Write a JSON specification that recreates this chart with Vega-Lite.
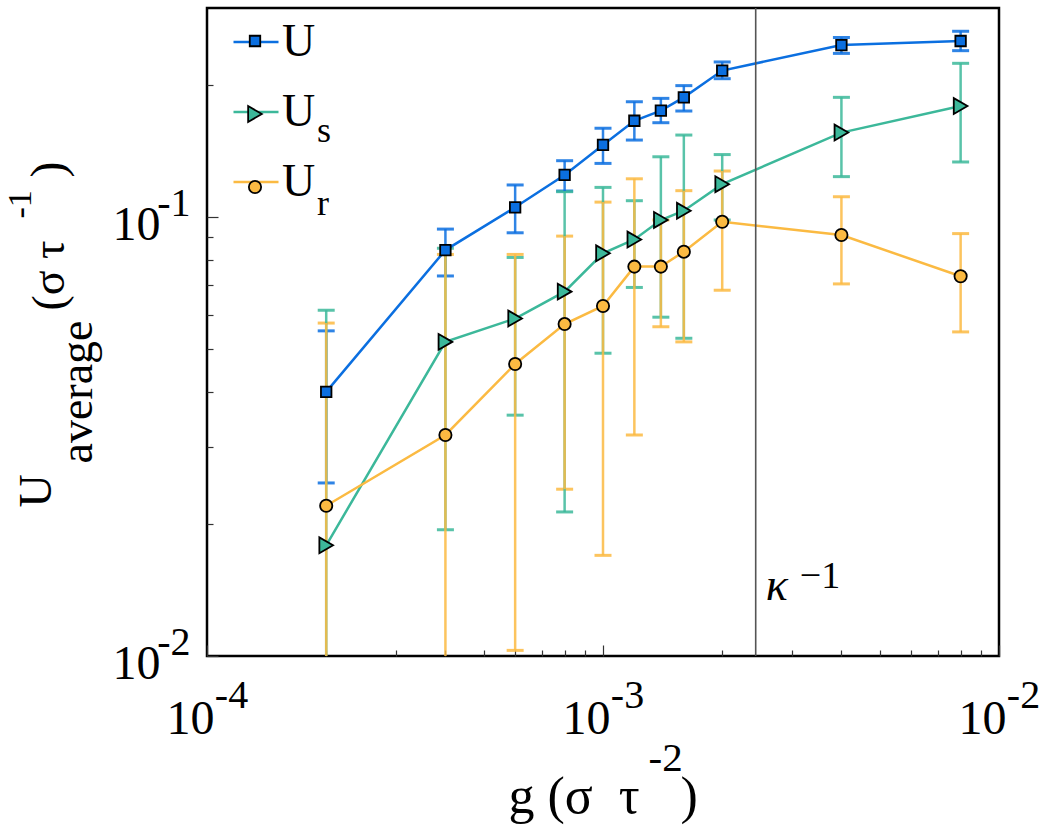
{
  "$schema": "https://vega.github.io/schema/vega-lite/v6.json",
  "width": 792,
  "height": 648,
  "autosize": {"type": "none"},
  "padding": {"left": 207, "top": 8, "right": 47, "bottom": 175},
  "background": "white",
  "datasets": {
    "points": [
      {"g": 0.0002, "series": "U", "v": 0.0400, "lo": 0.0248, "hi": 0.0551},
      {"g": 0.0004, "series": "U", "v": 0.0842, "lo": 0.0735, "hi": 0.0940},
      {"g": 0.0006, "series": "U", "v": 0.1054, "lo": 0.0922, "hi": 0.1185},
      {"g": 0.0008, "series": "U", "v": 0.1249, "lo": 0.1148, "hi": 0.1346},
      {"g": 0.0010, "series": "U", "v": 0.1462, "lo": 0.1327, "hi": 0.1596},
      {"g": 0.0012, "series": "U", "v": 0.1660, "lo": 0.1500, "hi": 0.1834},
      {"g": 0.0014, "series": "U", "v": 0.1750, "lo": 0.1643, "hi": 0.1867},
      {"g": 0.0016, "series": "U", "v": 0.1877, "lo": 0.1747, "hi": 0.1996},
      {"g": 0.0020, "series": "U", "v": 0.2160, "lo": 0.2070, "hi": 0.2260},
      {"g": 0.0040, "series": "U", "v": 0.2470, "lo": 0.2364, "hi": 0.2570},
      {"g": 0.0080, "series": "U", "v": 0.2523, "lo": 0.2398, "hi": 0.2655},
      {"g": 0.0002, "series": "Us", "v": 0.01788, "lo": 0.005, "hi": 0.0614},
      {"g": 0.0004, "series": "Us", "v": 0.0520, "lo": 0.0194, "hi": 0.0850},
      {"g": 0.0006, "series": "Us", "v": 0.0588, "lo": 0.0354, "hi": 0.0810},
      {"g": 0.0008, "series": "Us", "v": 0.0677, "lo": 0.0213, "hi": 0.1144},
      {"g": 0.0010, "series": "Us", "v": 0.0828, "lo": 0.0490, "hi": 0.1170},
      {"g": 0.0012, "series": "Us", "v": 0.0890, "lo": 0.0692, "hi": 0.1091},
      {"g": 0.0014, "series": "Us", "v": 0.0986, "lo": 0.0592, "hi": 0.1374},
      {"g": 0.0016, "series": "Us", "v": 0.1035, "lo": 0.0530, "hi": 0.1540},
      {"g": 0.0020, "series": "Us", "v": 0.1190, "lo": 0.0986, "hi": 0.1390},
      {"g": 0.0040, "series": "Us", "v": 0.1560, "lo": 0.1238, "hi": 0.1877},
      {"g": 0.0080, "series": "Us", "v": 0.1793, "lo": 0.1337, "hi": 0.2244},
      {"g": 0.0002, "series": "Ur", "v": 0.0220, "lo": 0.005, "hi": 0.0574},
      {"g": 0.0004, "series": "Ur", "v": 0.0319, "lo": 0.005, "hi": 0.0823},
      {"g": 0.0006, "series": "Ur", "v": 0.0463, "lo": 0.0103, "hi": 0.0823},
      {"g": 0.0008, "series": "Ur", "v": 0.0571, "lo": 0.0240, "hi": 0.0906},
      {"g": 0.0010, "series": "Ur", "v": 0.0628, "lo": 0.01696, "hi": 0.1083},
      {"g": 0.0012, "series": "Ur", "v": 0.0772, "lo": 0.0319, "hi": 0.1224},
      {"g": 0.0014, "series": "Ur", "v": 0.0772, "lo": 0.0563, "hi": 0.0986},
      {"g": 0.0016, "series": "Ur", "v": 0.0835, "lo": 0.0520, "hi": 0.1150},
      {"g": 0.0020, "series": "Ur", "v": 0.0977, "lo": 0.0682, "hi": 0.1275},
      {"g": 0.0040, "series": "Ur", "v": 0.0911, "lo": 0.0705, "hi": 0.1114},
      {"g": 0.0080, "series": "Ur", "v": 0.0734, "lo": 0.0548, "hi": 0.0918}
    ],
    "kappa": [{"g": 0.00243}]
  },
  "layer": [
    {
      "data": {"name": "points"},
      "mark": {"type": "errorbar", "clip": true, "opacity": 0.85, "ticks": {"size": 17, "thickness": 3}, "rule": {"strokeWidth": 2.5}},
      "encoding": {
        "x": {"field": "g", "type": "quantitative", "scale": {"type": "log", "domain": [0.0001, 0.01], "nice": false},
          "axis": {"orient": "bottom", "values": [0.0002, 0.0003, 0.0004, 0.0005, 0.0006, 0.0007, 0.0008, 0.0009, 0.002, 0.003, 0.004, 0.005, 0.006, 0.007, 0.008, 0.009],
            "labels": false, "tickSize": -6,
            "title": "g\u00a0(σ\u00a0\u00a0τ", "titleFontSize": 52, "titleX": 301, "titleY": 156, "titleAlign": "left", "titleBaseline": "alphabetic", "titleAngle": 0}},
        "y": {"field": "lo", "type": "quantitative", "scale": {"type": "log", "domain": [0.01, 0.3], "nice": false},
          "axis": {"orient": "left", "values": [0.02, 0.03, 0.04, 0.05, 0.06, 0.07, 0.08, 0.09, 0.2],
            "labels": false, "tickSize": -6,
            "title": "U", "titleFontSize": 46, "titleX": -157, "titleY": 499, "titleAlign": "left", "titleBaseline": "alphabetic", "titleAngle": 270}},
        "y2": {"field": "hi"},
        "color": {"field": "series", "type": "nominal",
          "scale": {"domain": ["U", "Us", "Ur"], "range": ["#0b6fe0", "#3cb89a", "#fbba42"]},
          "legend": {"orient": "none", "legendX": 25, "legendY": 10, "title": null, "padding": 0,
            "symbolType": "stroke", "symbolSize": 2025, "symbolStrokeWidth": 2.5, "symbolOpacity": 1,
            "labelExpr": "'U'", "labelFontSize": 46, "labelOffset": 2, "rowPadding": 23}}
      }
    },
    {
      "data": {"name": "points"},
      "mark": {"type": "line", "strokeWidth": 2.5},
      "encoding": {
        "x": {"field": "g", "type": "quantitative",
          "axis": {"orient": "bottom", "values": [0.0001, 0.001, 0.01], "labels": false, "tickSize": -11,
            "title": "-2", "titleFontSize": 41, "titleX": 441, "titleY": 114, "titleAlign": "left", "titleBaseline": "alphabetic", "titleAngle": 0}},
        "y": {"field": "v", "type": "quantitative",
          "axis": {"orient": "left", "values": [0.01, 0.1], "labels": false, "tickSize": -11,
            "title": "average", "titleFontSize": 46, "titleX": -116, "titleY": 455, "titleAlign": "left", "titleBaseline": "alphabetic", "titleAngle": 270}},
        "color": {"field": "series", "type": "nominal",
          "legend": {"orient": "none", "legendX": 25, "legendY": 10, "title": null, "padding": 0,
            "symbolType": "stroke", "symbolSize": 2025, "symbolStrokeWidth": 2.5, "symbolOpacity": 1,
            "labelExpr": "'U'", "labelFontSize": 46, "labelOffset": 2, "rowPadding": 23}}
      }
    },
    {
      "data": {"name": "points"},
      "mark": {"type": "point", "filled": true, "stroke": "black", "strokeWidth": 1.8, "opacity": 1},
      "encoding": {
        "x": {"field": "g", "type": "quantitative",
          "axis": {"orient": "bottom", "values": [0.0001, 0.001, 0.01], "ticks": false, "tickSize": 0,
            "labelExpr": "'10'", "labelFontSize": 48, "labelBaseline": "alphabetic", "labelAlign": "center", "labelPadding": 77, "labelOffset": -17,
            "title": ")", "titleFontSize": 52, "titleX": 473, "titleY": 156, "titleAlign": "left", "titleBaseline": "alphabetic", "titleAngle": 0}},
        "y": {"field": "v", "type": "quantitative",
          "axis": {"orient": "left", "values": [0.01, 0.1], "ticks": false, "tickSize": 0,
            "labelExpr": "'10'", "labelFontSize": 48, "labelBaseline": "alphabetic", "labelAlign": "right", "labelPadding": 47, "labelOffset": 22,
            "title": "(σ\u00a0τ", "titleFontSize": 46, "titleX": -144, "titleY": 302, "titleAlign": "left", "titleBaseline": "alphabetic", "titleAngle": 270}},
        "fill": {"field": "series", "type": "nominal", "sort": ["U", "Us", "Ur"],
          "scale": {"range": ["#0b6fe0", "#3cb89a", "#fbba42"]},
          "legend": {"orient": "none", "legendX": 30, "legendY": 15, "title": null, "padding": 0,
            "symbolType": "circle", "symbolSize": 144, "symbolStrokeWidth": 1.8, "symbolStrokeColor": "black", "symbolOpacity": 1,
            "labelExpr": "datum.value == 'Us' ? 's' : datum.value == 'Ur' ? 'r' : '\u00a0'",
            "labelFontSize": 36, "labelOffset": 44, "labelBaseline": "top", "rowPadding": 20,
            "encode": {"symbols": {"update": {
              "shape": {"signal": "datum.value == 'U' ? 'square' : datum.value == 'Us' ? 'triangle-right' : 'circle'"},
              "size": {"signal": "datum.value == 'U' ? 110 : datum.value == 'Us' ? 250 : 150"}}}}}},
        "shape": {"field": "series", "type": "nominal", "sort": ["U", "Us", "Ur"],
          "scale": {"range": ["square", "triangle-right", "circle"]}, "legend": null},
        "size": {"field": "series", "type": "nominal", "sort": ["U", "Us", "Ur"],
          "scale": {"type": "ordinal", "range": [110, 250, 150]}, "legend": null}
      }
    },
    {
      "data": {"name": "kappa"},
      "mark": {"type": "rule", "color": "#555555", "strokeWidth": 1.6},
      "encoding": {
        "x": {"field": "g", "type": "quantitative", "axis": null}
      }
    },
    {
      "data": {"name": "kappa"},
      "mark": {"type": "text", "text": "κ", "font": "Liberation Serif", "fontStyle": "italic", "fontSize": 46, "align": "left", "baseline": "alphabetic", "dx": 10, "color": "black"},
      "encoding": {
        "x": {"field": "g", "type": "quantitative",
          "axis": {"orient": "bottom", "values": [0.0001, 0.001, 0.01], "ticks": false, "tickSize": 0,
            "labelExpr": "'-' + round(-log(datum.value) / LN10)", "labelFontSize": 40, "labelBaseline": "alphabetic", "labelAlign": "center", "labelPadding": 51, "labelOffset": 24,
            "title": null}},
        "y": {"datum": 0.01342, "type": "quantitative",
          "axis": {"orient": "left", "values": [0.01, 0.1], "ticks": false, "tickSize": 0,
            "labelExpr": "'-' + round(-log(datum.value) / LN10)", "labelFontSize": 40, "labelBaseline": "alphabetic", "labelAlign": "right", "labelPadding": 17, "labelOffset": -2,
            "title": "-1", "titleFontSize": 34, "titleX": -177, "titleY": 210, "titleAlign": "left", "titleBaseline": "alphabetic", "titleAngle": 270}}
      }
    },
    {
      "data": {"name": "kappa"},
      "mark": {"type": "text", "text": "−1", "font": "Liberation Serif", "fontSize": 38, "align": "left", "baseline": "alphabetic", "dx": 44, "color": "black"},
      "encoding": {
        "x": {"field": "g", "type": "quantitative", "axis": null},
        "y": {"datum": 0.01429, "type": "quantitative",
          "axis": {"orient": "left", "labels": false, "ticks": false, "domain": false, "values": [0.1],
            "title": ")", "titleFontSize": 48, "titleX": -144, "titleY": 169, "titleAlign": "left", "titleBaseline": "alphabetic", "titleAngle": 270}}
      }
    }
  ],
  "resolve": {"axis": {"x": "independent", "y": "independent"}},
  "config": {
    "view": {"stroke": "black", "strokeWidth": 2.5},
    "font": "Liberation Serif",
    "axis": {
      "domain": false, "grid": false,
      "labelFont": "Liberation Serif", "titleFont": "Liberation Serif",
      "labelColor": "black", "titleColor": "black", "titleFontWeight": "normal",
      "tickColor": "#333333", "tickWidth": 1.2,
      "labelFlush": false, "labelOverlap": false, "labelBound": false
    },
    "legend": {"labelFont": "Liberation Serif", "labelColor": "black"}
  }
}
